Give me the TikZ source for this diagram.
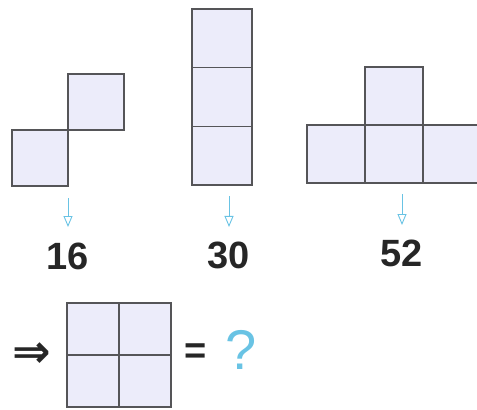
\documentclass[tikz,border=0pt]{standalone}
\usepackage{amsmath}
\usepackage{fontspec}
\setmainfont{Liberation Sans}
\newfontfamily\symfont{DejaVu Sans}
\usetikzlibrary{arrows.meta,positioning}
\definecolor{cellfill}{RGB}{236,236,250}
\definecolor{edge}{RGB}{85,85,88}
\definecolor{hint}{RGB}{105,195,228}
\begin{document}
\begin{tikzpicture}[x=1pt, y=-1pt,
  cell/.style={draw=edge, fill=cellfill, line width=1.2pt,
               minimum width=#1, minimum height=#1,
               inner sep=0pt, outer sep=0pt},
  cell/.default=56pt,
  tall/.style={cell, minimum width=60pt, minimum height=58.7pt},
  num/.style={font=\fontsize{38}{38}\selectfont\bfseries, text=black!85},
  arr/.style={-{Triangle[open,length=11pt,width=9pt]}, draw=hint, line width=0.9pt}
]
\useasboundingbox (0,0) rectangle (477,410);
\node[cell]                           (A1) at (40,158) {};
\node[cell, above right=0pt of A1]    (A2) {};
\node[tall]                           (B1) at (222,38.3) {};
\node[tall, below=0pt of B1]          (B2) {};
\node[tall, below=0pt of B2]          (B3) {};
\node[cell=58pt]                      (C1) at (336,154) {};
\node[cell=58pt, right=0pt of C1]     (C2) {};
\node[cell=58pt, right=0pt of C2]     (C3) {};
\node[cell=58pt, above=0pt of C2]     (C4) {};
\node[cell=52pt]                      (D1) at (93,329) {};
\node[cell=52pt, right=0pt of D1]     (D2) {};
\node[cell=52pt, below=0pt of D1]     (D3) {};
\node[cell=52pt, right=0pt of D3]     (D4) {};
\node[num] (n16) at (68,256) {16};
\node[num] (n30) at (229,255) {30};
\node[num] (n52) at (402,253) {52};
\coordinate (t16) at (68,198);
\coordinate (t30) at (229,196);
\coordinate (t52) at (402,194);
\draw[arr, shorten >=12pt] (t16) -- (n16);
\draw[arr, shorten >=11pt] (t30) -- (n30);
\draw[arr, shorten >=11pt] (t52) -- (n52);
\node[font=\fontsize{46}{46}\selectfont\symfont\bfseries, text=black!85] (imp) at (32,355) {⇒};
\node[num] (eq) at (196,354) {=};
\node[font=\fontsize{56}{56}\selectfont, text=hint] (ask) at (241,350) {?};
\end{tikzpicture}
\end{document}
